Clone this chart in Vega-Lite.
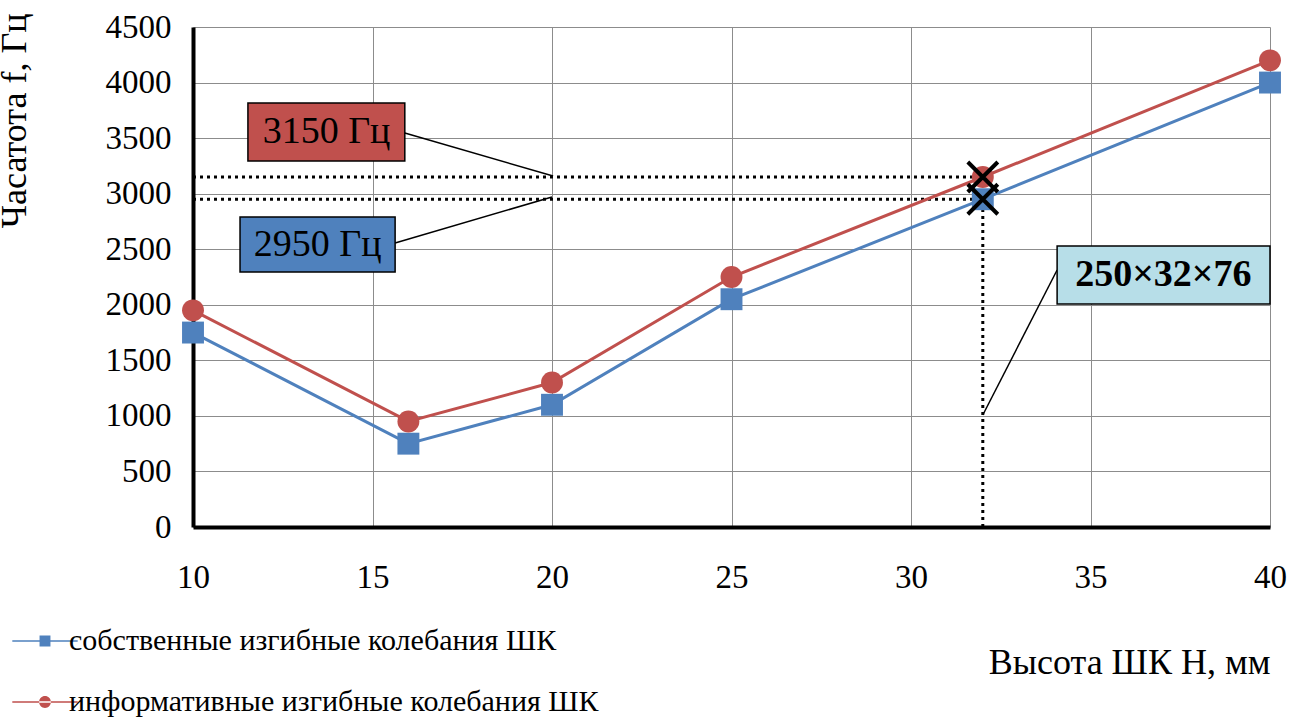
{
  "$schema": "https://vega.github.io/schema/vega-lite/v6.json",
  "width": 1077,
  "height": 500,
  "autosize": {"type": "none"},
  "padding": {"left": 193, "top": 27, "right": 30, "bottom": 193},
  "background": "white",
  "config": {
    "font": "Liberation Serif",
    "view": {"stroke": null},
    "axis": {"labelFont": "Liberation Serif", "titleFont": "Liberation Serif", "labelFontSize": 33, "titleFontSize": 36, "labelColor": "black", "titleColor": "black", "titleFontWeight": "normal", "domainColor": "black", "domainWidth": 4, "ticks": false, "gridColor": "#8c8c8c", "gridWidth": 1, "labelFlush": false, "format": "d"}
  },
  "datasets": {
    "series": [
      {"h": 10, "f": 1750, "s": "собственные изгибные колебания ШК"},
      {"h": 16, "f": 750, "s": "собственные изгибные колебания ШК"},
      {"h": 20, "f": 1100, "s": "собственные изгибные колебания ШК"},
      {"h": 25, "f": 2050, "s": "собственные изгибные колебания ШК"},
      {"h": 32, "f": 2950, "s": "собственные изгибные колебания ШК"},
      {"h": 40, "f": 4000, "s": "собственные изгибные колебания ШК"},
      {"h": 10, "f": 1950, "s": "информативные изгибные колебания ШК"},
      {"h": 16, "f": 950, "s": "информативные изгибные колебания ШК"},
      {"h": 20, "f": 1300, "s": "информативные изгибные колебания ШК"},
      {"h": 25, "f": 2250, "s": "информативные изгибные колебания ШК"},
      {"h": 32, "f": 3150, "s": "информативные изгибные колебания ШК"},
      {"h": 40, "f": 4200, "s": "информативные изгибные колебания ШК"}
    ],
    "dotted": [
      {"x1": 10, "x2": 32, "y1": 3150, "y2": 3150},
      {"x1": 10, "x2": 32, "y1": 2950, "y2": 2950},
      {"x1": 32, "x2": 32, "y1": 0, "y2": 2950}
    ],
    "leaders": [
      {"x1": 15.9, "x2": 20.03, "y1": 3546, "y2": 3159},
      {"x1": 15.63, "x2": 20, "y1": 2556, "y2": 2970},
      {"x1": 34.07, "x2": 32, "y1": 2313, "y2": 1008}
    ],
    "boxes": [
      {"x1": 11.53, "x2": 15.9, "y1": 3294, "y2": 3816, "tx": 13.72, "ty": 3555, "t": "3150 Гц", "fill": "#C0504D", "w": "normal"},
      {"x1": 11.31, "x2": 15.63, "y1": 2295, "y2": 2790, "tx": 13.47, "ty": 2542, "t": "2950 Гц", "fill": "#4F81BD", "w": "normal"},
      {"x1": 34.07, "x2": 40, "y1": 2007, "y2": 2529, "tx": 37.03, "ty": 2268, "t": "250×32×76", "fill": "#B7DEE8", "w": "bold"}
    ],
    "marks": [{"x": 32, "y": 3150}, {"x": 32, "y": 2950}]
  },
  "layer": [
    {
      "data": {"name": "dotted"},
      "mark": {"type": "rule", "strokeDash": [3, 4], "strokeWidth": 3, "color": "black"},
      "encoding": {
        "x": {"field": "x1", "type": "quantitative", "scale": {"domain": [10, 40], "nice": false},
          "axis": {"values": [10, 15, 20, 25, 30, 35, 40], "title": "Высота ШК Н, мм", "titleAnchor": "end", "titleY": 118, "labelPadding": 34, "grid": true}},
        "x2": {"field": "x2"},
        "y": {"field": "y1", "type": "quantitative", "scale": {"domain": [0, 4500], "nice": false},
          "axis": {"values": [0, 500, 1000, 1500, 2000, 2500, 3000, 3500, 4000, 4500], "title": "Часатота f, Гц", "titleAnchor": "end", "titleX": -160, "titleY": -14, "labelPadding": 22, "grid": true}},
        "y2": {"field": "y2"}
      }
    },
    {
      "data": {"name": "series"},
      "mark": {"type": "point", "filled": true, "opacity": 0, "size": 1900},
      "encoding": {
        "x": {"field": "h", "type": "quantitative"},
        "y": {"field": "f", "type": "quantitative"},
        "color": {"field": "s", "type": "nominal", "title": null,
          "scale": {"domain": ["собственные изгибные колебания ШК", "информативные изгибные колебания ШК"], "range": ["#4F81BD", "#C0504D"]},
          "legend": {"orient": "none", "legendX": -170, "legendY": 592, "direction": "vertical", "labelFontSize": 30, "labelFont": "Liberation Serif", "labelColor": "black", "symbolOpacity": 1, "symbolStrokeWidth": 0, "rowPadding": 24, "labelOffset": 2, "labelLimit": 800, "symbolSize": 1900}},
        "shape": {"field": "s", "type": "nominal", "title": null,
          "scale": {"domain": ["собственные изгибные колебания ШК", "информативные изгибные колебания ШК"],
            "range": ["M-1.5,-0.035H1.5V0.035H-1.5Z M-0.25,-0.25H0.25V0.25H-0.25Z", "M-1.5,-0.035H1.5V0.035H-1.5Z M-0.27,0A0.27,0.27 0 1,0 0.27,0A0.27,0.27 0 1,0 -0.27,0Z"]}}
      }
    },
    {
      "data": {"name": "series"},
      "mark": {"type": "line", "strokeWidth": 3},
      "encoding": {
        "x": {"field": "h", "type": "quantitative"},
        "y": {"field": "f", "type": "quantitative"},
        "color": {"field": "s", "type": "nominal"}
      }
    },
    {
      "data": {"name": "series"},
      "transform": [{"filter": "datum.s == 'собственные изгибные колебания ШК'"}],
      "mark": {"type": "point", "filled": true, "opacity": 1, "size": 480, "shape": "square"},
      "encoding": {
        "x": {"field": "h", "type": "quantitative"},
        "y": {"field": "f", "type": "quantitative"},
        "color": {"field": "s", "type": "nominal"}
      }
    },
    {
      "data": {"name": "series"},
      "transform": [{"filter": "datum.s == 'информативные изгибные колебания ШК'"}],
      "mark": {"type": "point", "filled": true, "opacity": 1, "size": 480, "shape": "circle"},
      "encoding": {
        "x": {"field": "h", "type": "quantitative"},
        "y": {"field": "f", "type": "quantitative"},
        "color": {"field": "s", "type": "nominal"}
      }
    },
    {
      "data": {"name": "marks"},
      "mark": {"type": "point", "shape": "M-1,-1L1,1M-1,1L1,-1", "size": 900, "strokeWidth": 4, "color": "black", "opacity": 1},
      "encoding": {
        "x": {"field": "x", "type": "quantitative"},
        "y": {"field": "y", "type": "quantitative"}
      }
    },
    {
      "data": {"name": "leaders"},
      "mark": {"type": "rule", "strokeWidth": 1.5, "color": "black"},
      "encoding": {
        "x": {"field": "x1", "type": "quantitative"},
        "x2": {"field": "x2"},
        "y": {"field": "y1", "type": "quantitative"},
        "y2": {"field": "y2"}
      }
    },
    {
      "data": {"name": "boxes"},
      "mark": {"type": "rect", "stroke": "black", "strokeWidth": 1.5},
      "encoding": {
        "x": {"field": "x1", "type": "quantitative"},
        "x2": {"field": "x2"},
        "y": {"field": "y1", "type": "quantitative"},
        "y2": {"field": "y2"},
        "fill": {"field": "fill", "type": "nominal", "scale": null, "legend": null}
      }
    },
    {
      "data": {"name": "boxes"},
      "transform": [{"filter": "datum.w == 'normal'"}],
      "mark": {"type": "text", "fontSize": 38, "font": "Liberation Serif", "color": "black", "align": "center", "baseline": "middle"},
      "encoding": {
        "x": {"field": "tx", "type": "quantitative"},
        "y": {"field": "ty", "type": "quantitative"},
        "text": {"field": "t"}
      }
    },
    {
      "data": {"name": "boxes"},
      "transform": [{"filter": "datum.w == 'bold'"}],
      "mark": {"type": "text", "fontSize": 38, "fontWeight": "bold", "font": "Liberation Serif", "color": "black", "align": "center", "baseline": "middle"},
      "encoding": {
        "x": {"field": "tx", "type": "quantitative"},
        "y": {"field": "ty", "type": "quantitative"},
        "text": {"field": "t"}
      }
    }
  ]
}
